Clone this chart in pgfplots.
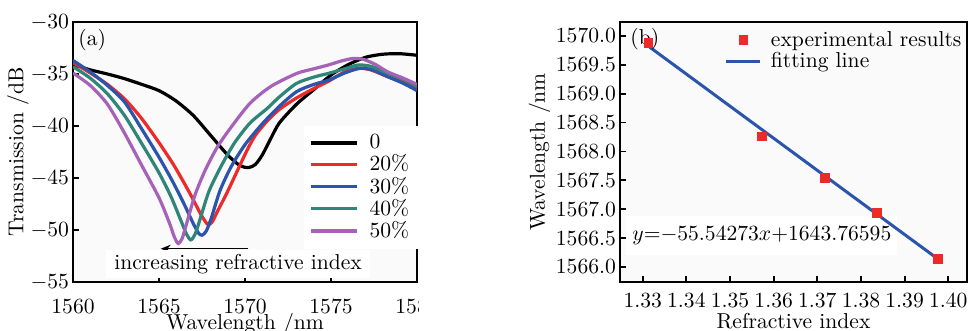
\RequirePackage{fix-cm}
\documentclass[border=0pt]{standalone}
\usepackage{pgfplots}
\pgfplotsset{compat=1.18}
\usetikzlibrary{arrows.meta}
\definecolor{cred}{rgb}{0.93,0.16,0.16}
\definecolor{cblue}{rgb}{0.17,0.33,0.68}
\definecolor{cteal}{rgb}{0.18,0.52,0.47}
\definecolor{cpurple}{rgb}{0.65,0.38,0.72}
\pgfplotsset{
  common/.style={
    scale only axis,
    anchor=south west,
    height=130pt,
    font=\fontsize{10.8}{12.5}\selectfont,
    axis line style={line width=1.3pt},
    tick style={line width=0.9pt, black},
    tick align=inside,
    tick pos=left,
    major tick length=3pt,
    scaled x ticks=false,
    scaled y ticks=false,
    yticklabel shift=-1.5pt,
    xlabel style={at={(axis description cs:0.5,0)}, anchor=base, yshift=-23.5pt, inner sep=0pt},
    axis background/.style={fill=black!2},
  }
}
\begin{document}
\begin{tikzpicture}
\useasboundingbox (0,0) rectangle (484pt,165.5pt);
\begin{scope}
\clip (0,0) rectangle (209pt,165.5pt);
\begin{axis}[common,
  at={(36.5pt,24.5pt)},
  width=172pt,
  xmin=1560, xmax=1580, ymin=-55, ymax=-30,
  xtick={1560,1565,1570,1575,1580},
  ytick={-55,-50,-45,-40,-35,-30},
  xticklabel style={/pgf/number format/1000 sep={}, inner sep=1pt},
  xticklabel shift=7.8pt,
  xlabel={Wavelength /nm},
  ylabel={Transmission /dB},
  ylabel shift=-6pt,
  legend cell align=left,
  legend style={at={(0.67,0.60)}, anchor=north west, draw=none, fill=white, row sep=-2.5pt, column sep=3.5pt, font=\fontsize{10.8}{12.5}\selectfont},
  legend image code/.code={\draw[#1] (0cm,0cm) -- (0.8cm,0cm);},
  every axis plot/.append style={line width=1.6pt, smooth, tension=0.45},
]
\addplot[black] coordinates {
(1560,-34.1) (1561,-34.6) (1562,-35.0) (1563,-35.45) (1564,-36.0) (1565,-36.6)
(1566,-37.6) (1567,-39.0) (1568,-40.9) (1569,-42.8)
(1569.7,-43.8) (1570.2,-44.0) (1570.6,-43.7) (1571.0,-42.8) (1571.5,-41.2)
(1572.0,-39.7) (1573,-37.9) (1574,-36.5) (1575,-35.1) (1576,-34.1) (1577,-33.4)
(1578,-33.1) (1579,-33.05) (1580,-33.2)};
\addlegendentry{0}
\addplot[cred] coordinates {
(1560,-33.9) (1561,-34.9) (1562,-36.0) (1563,-37.4) (1564,-39.3) (1565,-41.6)
(1565.8,-43.6) (1566.4,-45.3) (1566.9,-46.8) (1567.4,-48.4) (1567.7,-49.2)
(1567.87,-49.5) (1568.1,-49.2) (1568.4,-48.2) (1568.9,-46.6) (1569.5,-44.5)
(1570.1,-42.4) (1570.6,-40.9) (1571.3,-39.5) (1572,-38.4) (1573,-37.3)
(1574,-36.4) (1574.85,-35.7) (1575.8,-34.8) (1576.6,-34.45) (1577.3,-34.6)
(1578.3,-35.26) (1579.2,-35.8) (1580,-36.4)};
\addlegendentry{20\%}
\addplot[cblue] coordinates {
(1560,-33.7) (1561,-34.8) (1562,-36.1) (1563,-37.7) (1564,-40.3) (1565,-43.0)
(1565.75,-45.2) (1566.4,-47.3) (1567.0,-49.4) (1567.3,-50.3) (1567.5,-50.5)
(1567.75,-50.1) (1568.05,-48.8) (1568.55,-46.2) (1569.2,-43.9) (1570,-41.8)
(1571,-39.8) (1572,-38.1) (1573,-36.7) (1574,-36.0) (1574.85,-35.6) (1575.8,-34.9)
(1576.7,-34.45) (1577.4,-34.6) (1578.3,-35.26) (1579.2,-35.9) (1580,-36.6)};
\addlegendentry{30\%}
\addplot[cteal] coordinates {
(1560,-34.3) (1561,-35.4) (1562,-36.9) (1563,-39.0) (1564,-41.7)
(1565,-44.5) (1565.7,-46.8) (1566.3,-49.2) (1566.6,-50.4) (1566.85,-50.95)
(1567.1,-50.4) (1567.4,-48.9) (1567.9,-46.3) (1568.6,-43.9) (1569.4,-41.6)
(1570.3,-39.7) (1571.3,-38.3) (1572,-37.2) (1573,-35.9) (1574,-35.3)
(1574.85,-34.94) (1575.8,-34.5) (1576.6,-34.13) (1577.4,-34.3) (1578.3,-34.94)
(1579.2,-35.5) (1580,-36.2)};
\addlegendentry{40\%}
\addplot[cpurple] coordinates {
(1560,-34.9) (1561,-36.1) (1562,-37.9) (1563,-40.7) (1564,-43.8) (1565,-46.9)
(1565.6,-49.3) (1565.9,-50.7) (1566.12,-51.3) (1566.35,-50.8) (1566.6,-49.4)
(1567.1,-46.6) (1567.7,-44.2) (1568.4,-42.0) (1569.2,-40.1) (1570.3,-37.8)
(1571.5,-36.2) (1573,-34.95) (1574,-34.5) (1574.85,-34.13) (1575.6,-33.75)
(1576.3,-33.5) (1576.9,-33.6) (1577.6,-34.1) (1578.3,-34.8) (1579.2,-35.4)
(1580,-36.0)};
\addlegendentry{50\%}
\node[anchor=west, inner sep=0pt] at (axis cs:1560.29,-31.73) {(a)};
\draw[-{Stealth[length=5pt,width=4pt]}, line width=0.6pt] (axis cs:1570.2,-51.8) -- (axis cs:1565.1,-51.8);
\node[fill=white, inner xsep=4pt, inner ysep=2pt] at (axis cs:1569.6,-53.3) {increasing refractive index};
\end{axis}
\end{scope}
\begin{axis}[common,
  at={(310pt,24.5pt)},
  width=173.5pt,
  xmin=1.3248, xmax=1.4043, ymin=1565.74, ymax=1570.24,
  xtick={1.33,1.34,1.35,1.36,1.37,1.38,1.39,1.40},
  ytick={1566,1566.5,1567,1567.5,1568,1568.5,1569,1569.5,1570},
  xticklabel style={/pgf/number format/.cd, fixed, fixed zerofill, precision=2, /tikz/inner sep=1pt},
  yticklabel style={/pgf/number format/.cd, fixed, fixed zerofill, precision=1, 1000 sep={}},
  xticklabel shift=4.8pt,
  xlabel={Refractive index},
  ylabel={Wavelength /nm},
  ylabel shift=-4pt,
  legend cell align=left,
  legend style={at={(0.2835,0.997)}, anchor=north west, draw=none, fill=none, row sep=-2.5pt, column sep=2.5pt, font=\fontsize{10.8}{12.5}\selectfont},
]
\node[fill=white, inner xsep=3pt, inner ysep=5pt] at (axis cs:1.3573,1566.55) {\(y\)=\(-\)55.54273\(x\)+1643.76595};
\addplot[only marks, mark=square*, mark size=2.2pt, color=cred] coordinates {
(1.3313,1569.88) (1.3573,1568.26) (1.3718,1567.54) (1.3837,1566.93) (1.3977,1566.14)};
\addlegendentry{experimental results}
\addplot[no markers, line width=1.5pt, color=cblue] coordinates {
(1.3313,1569.822) (1.3977,1566.134)};
\addlegendentry{fitting line}
\node[anchor=west, inner sep=0pt] at (axis cs:1.3271,1569.95) {(b)};
\end{axis}
\end{tikzpicture}
\end{document}
